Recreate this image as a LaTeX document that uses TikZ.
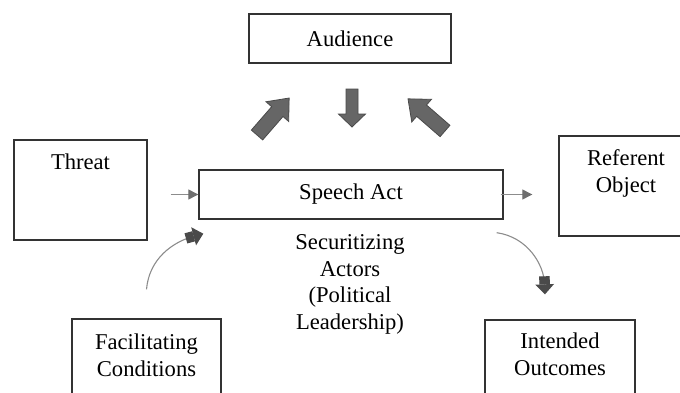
\documentclass[tikz,border=0pt]{standalone}
\usepackage{fontspec}
\setmainfont{Liberation Serif}
\usetikzlibrary{arrows.meta}
\definecolor{boxline}{HTML}{333333}
\definecolor{linegray}{HTML}{8C8C8C}
\definecolor{headgray}{HTML}{6E6E6E}
\definecolor{headdark}{HTML}{4A4A4A}
\definecolor{blockfill}{HTML}{666666}
\definecolor{blockline}{HTML}{4A4A4A}
\begin{document}
\begin{tikzpicture}[x=1pt,y=1pt,
  box/.style={draw=boxline, line width=1.4pt, fill=white, inner sep=0pt,
    font=\fontsize{22.6}{27}\selectfont},
  lbl/.style={inner sep=0pt, align=center, font=\fontsize{22.6}{27}\selectfont},
  thinarrow/.style={draw=linegray, line width=1.3pt,
    -{Triangle[length=10pt,width=10pt,color=headgray,fill=headgray]}},
  curvearrow/.style={draw=linegray, line width=1.1pt,
    -{Rectangle[length=8pt,width=10.5pt,sep=0pt,color=headdark,fill=headdark]
      Triangle[length=10pt,width=18.5pt,color=headdark,fill=headdark]}},
  blockarrow/.style={fill=blockfill, draw=blockline, line width=0.8pt, line join=miter}
]
\useasboundingbox (0,0) rectangle (680,392);
\clip (0,0) rectangle (680,392);

% boxes
\node[box, minimum width=202pt, minimum height=49pt] (audience) at (350,353.5) {Audience};
\node[box, minimum width=304pt, minimum height=49pt] (speech) at (351,197.5) {Speech Act};

\node[box, minimum width=133pt, minimum height=100pt] (threat) at (80.5,202) {};
\node[lbl, anchor=north] (threatText) at ([yshift=-14.7pt]threat.north) {Threat};

\node[box, minimum width=134pt, minimum height=100pt] (referent) at (626,206) {};
\node[lbl, anchor=north] (referentText) at ([yshift=-13.6pt]referent.north) {Referent\\Object};

\node[box, minimum width=149pt, minimum height=100pt] (facil) at (146.5,23) {};
\node[lbl, anchor=north] (facilText) at ([yshift=-15.6pt]facil.north) {Facilitating\\Conditions};

\node[box, minimum width=150pt, minimum height=100pt] (intended) at (560,22) {};
\node[lbl, anchor=north] (intendedText) at ([yshift=-13.6pt]intended.north) {Intended\\Outcomes};

\node[lbl, anchor=north, font=\fontsize{22.6}{26.5}\selectfont] (actors) at (350,157.3)
  {Securitizing\\Actors\\(Political\\Leadership)};

% block arrows between audience and speech act
\draw[blockarrow, shift={(257,257)}, rotate=49]
  (0,-7.5) -- (31,-7.5) -- (31,-15) -- (49,0) -- (31,15) -- (31,7.5) -- (0,7.5) -- cycle;
\draw[blockarrow, shift={(352,303)}, rotate=-90]
  (0,-6) -- (25,-6) -- (25,-13.5) -- (38,0) -- (25,13.5) -- (25,6) -- (0,6) -- cycle;
\draw[blockarrow, shift={(445,261)}, rotate=139]
  (0,-7.5) -- (31,-7.5) -- (31,-15) -- (49,0) -- (31,15) -- (31,7.5) -- (0,7.5) -- cycle;

% straight connectors
\draw[thinarrow, shorten <=23pt] (threat.east |- speech.west) -- (speech.west);
\draw[thinarrow, shorten >=26pt] ([xshift=-3pt]speech.east) -- (referent.west |- speech.east);

% curved connectors
\coordinate (fcStart) at ([yshift=29pt]facil.north);
\coordinate (fcEnd) at ([shift={(5pt,-14pt)}]speech.south west);
\draw[curvearrow] (fcStart) to[out=85,in=195] (fcEnd);

\coordinate (ioStart) at ([shift={(-7pt,-13pt)}]speech.south east);
\coordinate (ioEnd) at ([shift={(-15pt,25pt)}]intended.north);
\draw[curvearrow] (ioStart) to[out=-8,in=92] (ioEnd);
\end{tikzpicture}
\end{document}
